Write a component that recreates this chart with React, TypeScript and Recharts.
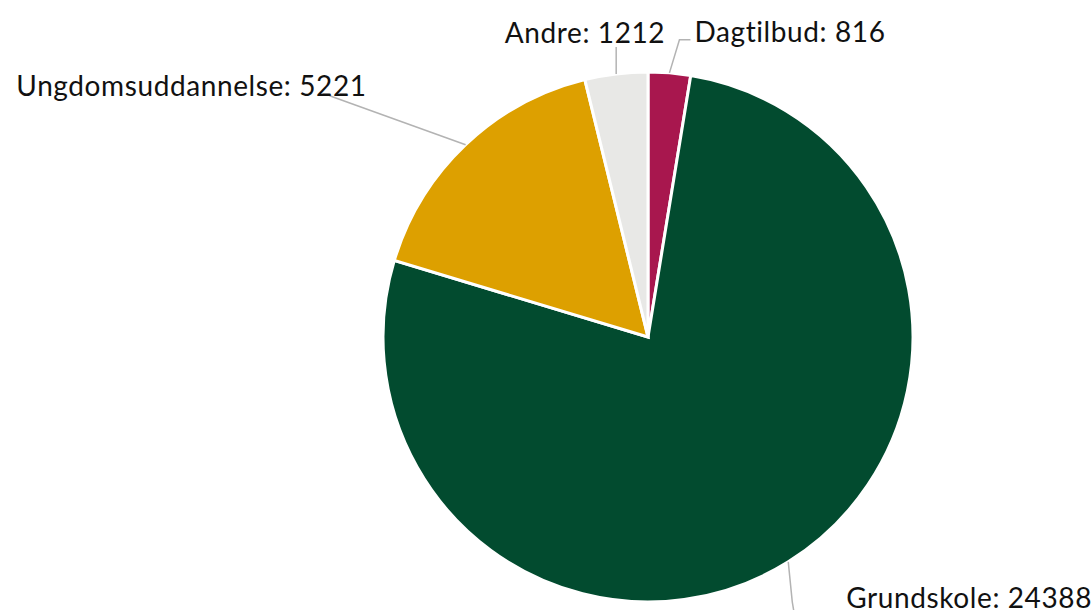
import React from 'react';
import { PieChart, Pie, Cell } from 'recharts';

const categories = ['Dagtilbud', 'Grundskole', 'Ungdomsuddannelse', 'Andre'];
const values = [816, 24388, 5221, 1212];
const colors = ['#A8174E', '#024B2F', '#DDA000', '#E8E8E6'];

const data = categories.map((name, i) => ({ name, value: values[i] }));

// label layout per slice: elbow offset, end offset (relative to edge point), text anchor & offset
const labelLayout = [
  { elbow: [10, -33], end: [21, -33], anchor: 'start', text: [25, -42] },
  { elbow: [4, 40], end: [7, 58], anchor: 'start', text: [58, 35] },
  { elbow: [-136, -49], end: [-136, -49], anchor: 'end', text: [-99, -60] },
  { elbow: [0, -27], end: [0, -27], anchor: 'end', text: [49, -42] },
];

const RADIAN = Math.PI / 180;

const renderLabel = (props: any) => {
  const { cx, cy, midAngle, outerRadius, index, name, value } = props;
  const ex = cx + outerRadius * Math.cos(-midAngle * RADIAN);
  const ey = cy + outerRadius * Math.sin(-midAngle * RADIAN);
  const L = labelLayout[index];
  const pts = [
    [ex, ey],
    [ex + L.elbow[0], ey + L.elbow[1]],
    [ex + L.end[0], ey + L.end[1]],
  ];
  return (
    <g>
      <polyline
        points={pts.map((p) => p.join(',')).join(' ')}
        fill="none"
        stroke="#B3B3B3"
        strokeWidth={1.5}
      />
      <text
        x={ex + L.text[0]}
        y={ey + L.text[1]}
        textAnchor={L.anchor}
        dominantBaseline="central"
        fill="#111"
        fontSize={28}
        letterSpacing={0.6}
        fontFamily="Lato, sans-serif"
      >
        {`${name}: ${value}`}
      </text>
    </g>
  );
};

export default function App() {
  return (
    <div style={{ position: 'absolute', left: 0, top: 0, width: 1092, height: 610, background: '#fff' }}>
      <PieChart width={1092} height={610} margin={{ top: 0, right: 0, bottom: 0, left: 0 }}>
        <Pie
          data={data}
          dataKey="value"
          nameKey="name"
          cx={648}
          cy={337}
          outerRadius={265}
          startAngle={90}
          endAngle={-270}
          stroke="#ffffff"
          strokeWidth={3}
          label={renderLabel}
          labelLine={false}
          isAnimationActive={false}
        >
          {data.map((d, i) => (
            <Cell key={d.name} fill={colors[i]} />
          ))}
        </Pie>
      </PieChart>
    </div>
  );
}
